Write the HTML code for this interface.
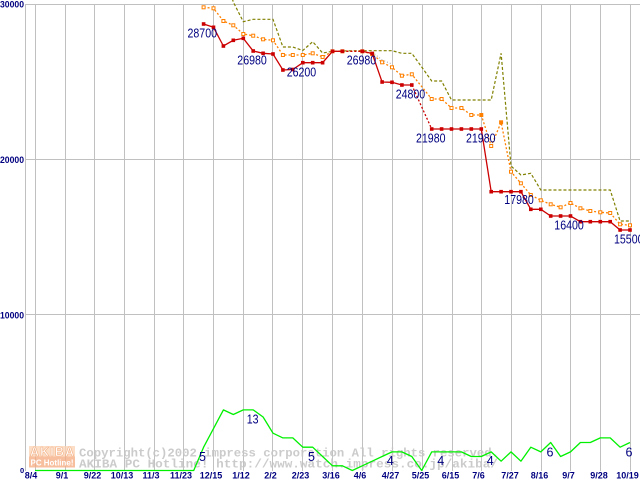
<!DOCTYPE html>
<html><head><meta charset="utf-8"><style>
html,body{margin:0;padding:0;background:#fff;}
svg{display:block;}
</style></head><body>
<svg width="640" height="480" viewBox="0 0 640 480" xmlns="http://www.w3.org/2000/svg">
<defs>
<marker id="rs" markerUnits="userSpaceOnUse" markerWidth="6" markerHeight="6" refX="3" refY="3" overflow="visible"><rect x="1.2" y="1.2" width="3.6" height="3.6" fill="#cc0000"/></marker>
<marker id="os" markerUnits="userSpaceOnUse" markerWidth="6" markerHeight="6" refX="3" refY="3" overflow="visible"><rect x="1.5" y="1.5" width="3" height="3" fill="#ffffff" stroke="#ff8000" stroke-width="1"/></marker>
</defs>
<rect width="640" height="480" fill="#fff"/>
<!-- grid -->
<g stroke="#c0c0c0" stroke-width="1" fill="none" shape-rendering="crispEdges">
<line x1="25.5" y1="4" x2="25.5" y2="471"/>
<line x1="25" y1="4.5" x2="640" y2="4.5"/>
<line x1="25" y1="159.5" x2="640" y2="159.5"/>
<line x1="25" y1="314.5" x2="640" y2="314.5"/>
<line x1="35.5" y1="4" x2="35.5" y2="471"/>
<line x1="65.5" y1="4" x2="65.5" y2="471"/>
<line x1="94.5" y1="4" x2="94.5" y2="471"/>
<line x1="124.5" y1="4" x2="124.5" y2="471"/>
<line x1="154.5" y1="4" x2="154.5" y2="471"/>
<line x1="183.5" y1="4" x2="183.5" y2="471"/>
<line x1="213.5" y1="4" x2="213.5" y2="471"/>
<line x1="243.5" y1="4" x2="243.5" y2="471"/>
<line x1="272.5" y1="4" x2="272.5" y2="471"/>
<line x1="302.5" y1="4" x2="302.5" y2="471"/>
<line x1="332.5" y1="4" x2="332.5" y2="471"/>
<line x1="362.5" y1="4" x2="362.5" y2="471"/>
<line x1="392.5" y1="4" x2="392.5" y2="471"/>
<line x1="422.5" y1="4" x2="422.5" y2="471"/>
<line x1="452.5" y1="4" x2="452.5" y2="471"/>
<line x1="481.5" y1="4" x2="481.5" y2="471"/>
<line x1="511.5" y1="4" x2="511.5" y2="471"/>
<line x1="541.5" y1="4" x2="541.5" y2="471"/>
<line x1="570.5" y1="4" x2="570.5" y2="471"/>
<line x1="600.5" y1="4" x2="600.5" y2="471"/>
<line x1="630.5" y1="4" x2="630.5" y2="471"/>
</g>
<!-- y labels -->
<g font-family="Liberation Sans, sans-serif" font-weight="bold" font-size="9.5" fill="#000080">
<text x="0" y="7.5" textLength="24" lengthAdjust="spacingAndGlyphs">30000</text>
<text x="0" y="163" textLength="24" lengthAdjust="spacingAndGlyphs">20000</text>
<text x="0" y="318.5" textLength="24" lengthAdjust="spacingAndGlyphs">10000</text>
<text x="20" y="473" font-size="7.5">0</text>
</g>
<!-- x labels -->
<g font-family="Liberation Sans, sans-serif" font-weight="bold" font-size="9" fill="#000080" text-anchor="middle">
<text x="31" y="478.5">8/4</text>
<text x="62" y="478.5">9/1</text>
<text x="92.5" y="478.5">9/22</text>
<text x="122" y="478.5">10/13</text>
<text x="151" y="478.5">11/3</text>
<text x="181" y="478.5">11/23</text>
<text x="211" y="478.5">12/15</text>
<text x="241" y="478.5">1/12</text>
<text x="270.5" y="478.5">2/2</text>
<text x="300.5" y="478.5">2/23</text>
<text x="331" y="478.5">3/16</text>
<text x="360" y="478.5">4/6</text>
<text x="390.5" y="478.5">4/27</text>
<text x="420.5" y="478.5">5/25</text>
<text x="450.5" y="478.5">6/15</text>
<text x="478.5" y="478.5">7/6</text>
<text x="510" y="478.5">7/27</text>
<text x="539.5" y="478.5">8/16</text>
<text x="568.5" y="478.5">9/7</text>
<text x="599" y="478.5">9/28</text>
<text x="627.5" y="478.5">10/19</text>
</g>
<!-- watermark -->
<g opacity="0.9">
<rect x="29" y="446" width="46" height="10.5" fill="#fbd2b4" opacity="0.85"/>
<rect x="29" y="456.5" width="46" height="11" fill="#f6ab82" opacity="0.85"/>
<text x="30" y="456" font-family="Liberation Sans, sans-serif" font-weight="bold" font-size="12.5" fill="#ffffff" stroke="#f2a878" stroke-width="0.6" textLength="44" lengthAdjust="spacing">AKIBA</text>
<text x="30.5" y="465.5" font-family="Liberation Sans, sans-serif" font-weight="bold" font-size="8.5" fill="#ffffff" textLength="43" lengthAdjust="spacingAndGlyphs">PC Hotline!</text>
<g font-family="Liberation Mono, monospace" font-weight="bold" font-size="11.5" fill="#c6c6c6" style="white-space:pre">
<text x="79" y="456.5" textLength="420" lengthAdjust="spacingAndGlyphs">Copyright(c)2002  impress corporation All rights reserved.</text>
<text x="79" y="467.5" textLength="419" lengthAdjust="spacingAndGlyphs">AKIBA PC Hotline!  http://www.watch.impress.co.jp/akiba/</text>
</g>
</g>
<!-- green count series -->
<polyline fill="none" stroke="#00f000" stroke-width="1.3" stroke-linejoin="round" points="35,470.5 193.7,470.5 203.6,447.2 213.5,428.6 223.4,409.9 233.3,414.5 243.3,409.9 253.2,409.9 263.1,417 273,433.2 282.9,437.9 292.8,437.9 302.8,447.2 312.7,447.2 322.6,456.5 332.5,465.8 342.4,465.8 352.3,470.5 362.3,465.8 372.2,461.2 382.1,456.5 392,451.9 401.9,451.9 411.8,456.5 421.7,470.5 431.7,451.9 441.6,451.9 451.5,451.9 461.4,451.9 471.3,456.5 481.3,456.5 491.2,451.9 501.1,461.2 511,451.9 520.9,461.2 530.8,447.2 540.8,451.9 550.7,442.5 560.6,456.5 570.5,451.9 580.4,442.5 590.3,442.5 600.3,437.9 610.2,437.9 620.1,447.2 630,442.5"/>
<!-- olive max series -->
<polyline fill="none" stroke="#808000" stroke-width="1.2" stroke-dasharray="3,2" points="223.4,-30 233.3,2 243.3,21.7 253.2,19.3 263.1,19.3 273,19.3 282.9,47 292.8,47 302.8,50.5 312.7,41.7 322.6,53 332.5,51.3 342.4,51 352.3,50.7 362.3,50.7 372.2,50.7 382.1,50.7 392,50.7 401.9,53.3 411.8,53.3 421.7,67 431.7,81 441.6,81 451.5,100 461.4,100 471.3,100 481.3,100 491.2,100 501.1,53.3 511,166 520.9,175 530.8,173.3 540.8,190 550.7,190 560.6,190 570.5,190 580.4,190 590.3,190 600.3,190 610.2,190 620.1,221 630,221"/>
<!-- gray small dotted bits -->
<polyline fill="none" stroke="#a0a0a0" stroke-width="1" stroke-dasharray="1,2" points="372.2,52 382.1,60 392,64"/>
<!-- orange avg series -->
<polyline fill="none" stroke="#ff8000" stroke-width="1.3" stroke-dasharray="2,2" marker-start="url(#os)" marker-mid="url(#os)" marker-end="url(#os)" points="203.6,7.3 213.5,8.3 223.4,21 233.3,25.3 243.3,34 253.2,35.7 263.1,39.3 273,40.3 282.9,55 292.8,55 302.8,55 312.7,53.3 322.6,57 332.5,51.3 342.4,51.3 362.3,51.3 372.2,54 382.1,62.3 392,67.3 401.9,75.7 411.8,74.3 431.7,99 441.6,99 451.5,108 461.4,108 471.3,115 481.3,115 491.2,146 501.1,122.3 511,171.7 520.9,183.3 530.8,195 540.8,200.3 550.7,204.3 560.6,207.3 570.5,203 580.4,208.3 590.3,211 600.3,212.3 610.2,213 620.1,224.3 630,225.3"/>
<rect x="479.8" y="113.5" width="3" height="3" fill="#ff8000"/>
<rect x="499.6" y="120.8" width="3.2" height="3.2" fill="#ff8000"/>
<!-- red min series -->
<g fill="none" stroke="#cc0000" stroke-width="1.3">
<polyline marker-start="url(#rs)" marker-mid="url(#rs)" marker-end="url(#rs)" points="203.6,24 213.5,27.3 223.4,46 233.3,40.3 243.3,38.3 253.2,51 263.1,53.3 273,54 282.9,70 292.8,69.5 302.8,62.7 312.7,62.7 322.6,62.7 332.5,51.3 342.4,51.3"/>
<polyline stroke-dasharray="2,2" points="342.4,51.3 362.3,51.3"/>
<polyline marker-start="url(#rs)" marker-mid="url(#rs)" marker-end="url(#rs)" points="362.3,51.3 372.2,53.5 382.1,82 392,82.3 401.9,85 411.8,85"/>
<polyline stroke-dasharray="2,2" points="411.8,85 431.7,129"/>
<polyline marker-start="url(#rs)" marker-mid="url(#rs)" marker-end="url(#rs)" points="431.7,129 441.6,129 451.5,129 461.4,129 471.3,129 481.3,129 491.2,191.7 501.1,191.7 511,191.7 520.9,191.7 530.8,209.3 540.8,209.3 550.7,216 560.6,216 570.5,216 580.4,221.7 590.3,221.7 600.3,221.7 610.2,221.7 620.1,230 630,230"/>
</g>
<!-- price labels -->
<g font-family="Liberation Sans, sans-serif" font-size="12.5" fill="#000080">
<text x="187.5" y="37.5" textLength="29.5" lengthAdjust="spacingAndGlyphs">28700</text>
<text x="237.3" y="64.5" textLength="29.5" lengthAdjust="spacingAndGlyphs">26980</text>
<text x="286.7" y="76.5" textLength="29.5" lengthAdjust="spacingAndGlyphs">26200</text>
<text x="346.7" y="64.5" textLength="29.5" lengthAdjust="spacingAndGlyphs">26980</text>
<text x="395.7" y="98.5" textLength="29.5" lengthAdjust="spacingAndGlyphs">24800</text>
<text x="416" y="142.3" textLength="29.5" lengthAdjust="spacingAndGlyphs">21980</text>
<text x="466" y="142.3" textLength="29.5" lengthAdjust="spacingAndGlyphs">21980</text>
<text x="504.3" y="204" textLength="29.5" lengthAdjust="spacingAndGlyphs">17980</text>
<text x="554.3" y="229.5" textLength="29.5" lengthAdjust="spacingAndGlyphs">16400</text>
<text x="614" y="243.5" textLength="29.5" lengthAdjust="spacingAndGlyphs">15500</text>
<text x="199" y="461">5</text>
<text x="246.7" y="423.3" textLength="11.8" lengthAdjust="spacingAndGlyphs">13</text>
<text x="308" y="461">5</text>
<text x="386.7" y="465">4</text>
<text x="437.3" y="465">4</text>
<text x="486.7" y="465">4</text>
<text x="546.5" y="456.7">6</text>
<text x="625.5" y="456.7">6</text>
</g>
</svg>
</body></html>
